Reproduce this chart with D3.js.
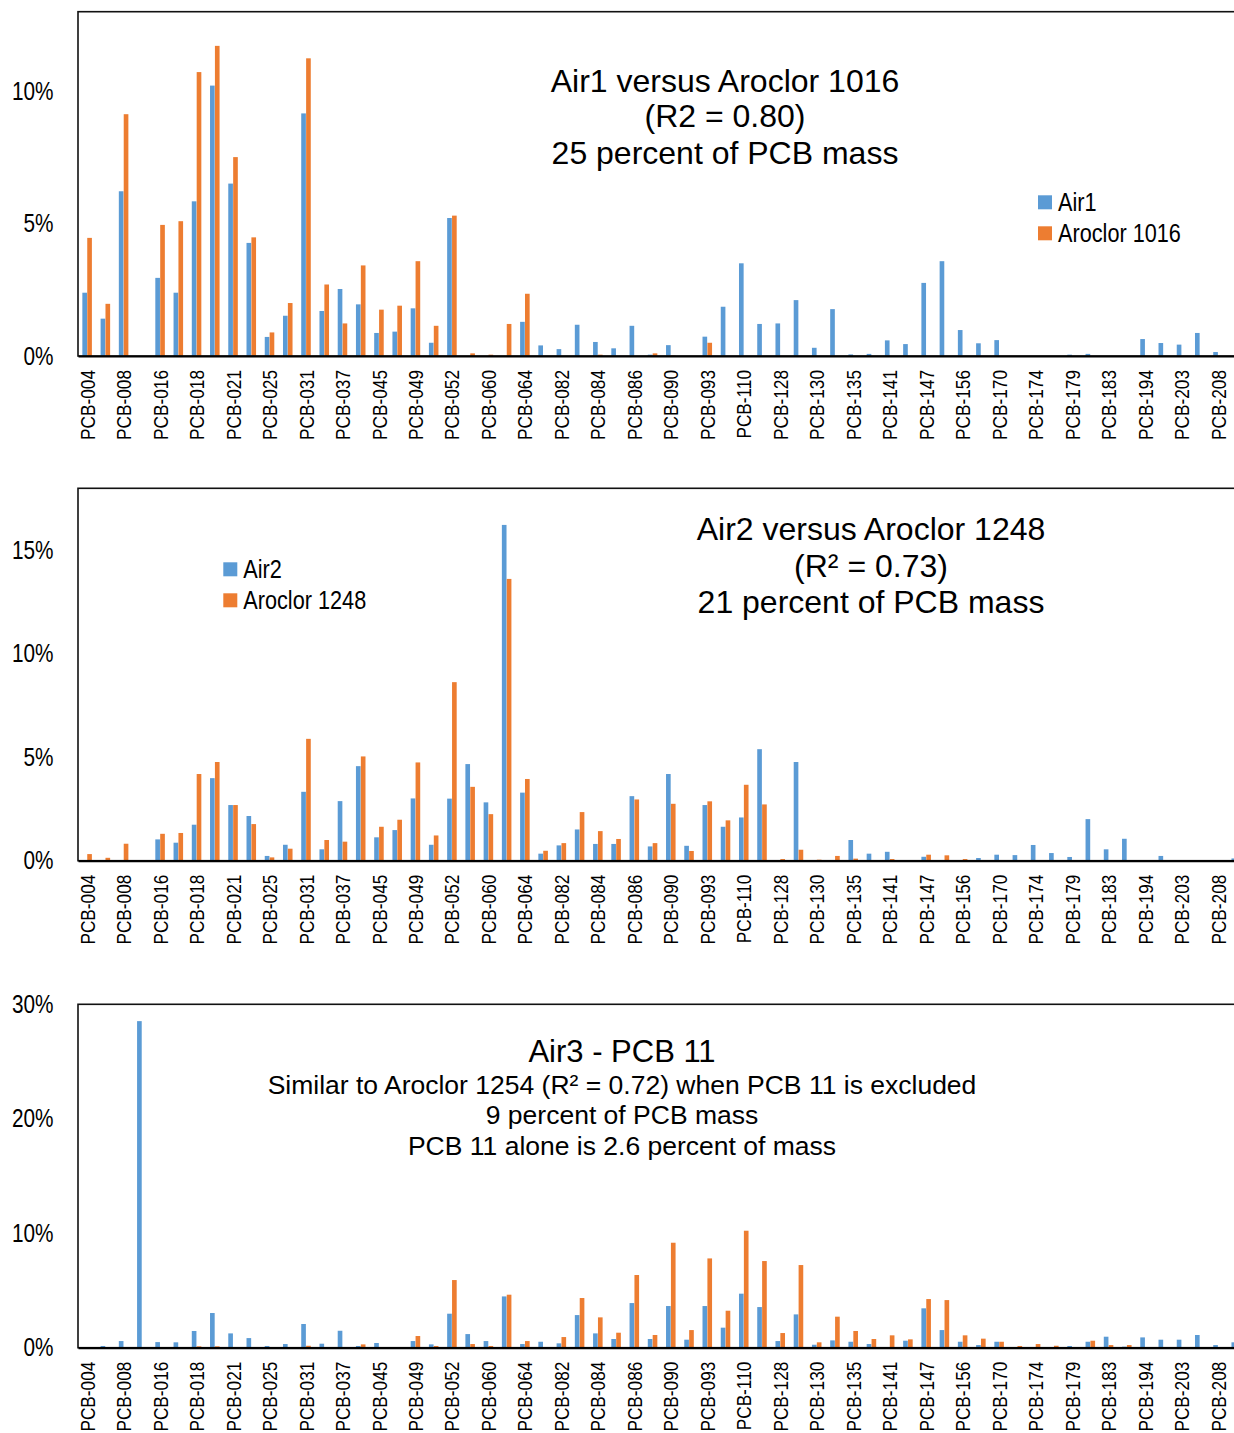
<!DOCTYPE html>
<html>
<head>
<meta charset="utf-8">
<script src="https://cdnjs.cloudflare.com/ajax/libs/d3/7.8.5/d3.min.js"></script>
<style>
body { margin: 0; background: #fff; }
svg { display: block; }
</style>
</head>
<body>
<div class="graph"></div>
<script>
//congeners on the x axis (only every other one gets a label)
let congeners = ['PCB-004','PCB-006','PCB-008','PCB-011','PCB-016','PCB-017','PCB-018','PCB-020',
    'PCB-021','PCB-022','PCB-025','PCB-028','PCB-031','PCB-033','PCB-037','PCB-044',
    'PCB-045','PCB-047','PCB-049','PCB-051','PCB-052','PCB-056','PCB-060','PCB-061',
    'PCB-064','PCB-066','PCB-082','PCB-083','PCB-084','PCB-085','PCB-086','PCB-087',
    'PCB-090','PCB-092','PCB-093','PCB-095','PCB-110','PCB-118','PCB-128','PCB-129',
    'PCB-130','PCB-132','PCB-135','PCB-138','PCB-141','PCB-146','PCB-147','PCB-153',
    'PCB-156','PCB-163','PCB-170','PCB-172','PCB-174','PCB-177','PCB-179','PCB-180',
    'PCB-183','PCB-187','PCB-194','PCB-199','PCB-203','PCB-206','PCB-208','PCB-209']

//percent of total mass
let air1 = [2.39,1.41,6.22,0,2.95,2.39,5.84,10.21,6.51,4.27,
    0.72,1.52,9.16,1.70,2.53,1.95,0.87,0.92,1.80,0.50,
    5.21,0,0,0,1.29,0.40,0.26,1.18,0.53,0.29,
    1.14,0.05,0.41,0,0.73,1.86,3.50,1.21,1.23,2.11,
    0.31,1.77,0.06,0.08,0.59,0.45,2.76,3.58,0.98,0.48,
    0.60,0,0,0,0.05,0.08,0,0,0.64,0.49,
    0.43,0.87,0.15,0]
let aroclor1016 = [4.46,1.97,9.13,0,4.95,5.09,10.72,11.71,7.51,4.48,
    0.89,2.00,11.24,2.70,1.23,3.42,1.75,1.90,3.58,1.14,
    5.30,0.10,0.05,1.21,2.35,0,0,0,0.05,0,
    0,0.10,0.02,0,0.50,0,0,0,0,0,
    0,0,0,0,0,0,0,0,0,0,
    0,0,0,0,0,0,0,0,0,0,
    0,0,0,0]

let air2 = [0,0,0,0,1.03,0.87,1.74,3.99,2.69,2.16,
    0.23,0.77,3.33,0.55,2.88,4.57,1.13,1.48,3.01,0.77,
    3.00,4.67,2.82,16.23,3.29,0.34,0.74,1.51,0.81,0.81,
    3.12,0.69,4.19,0.72,2.69,1.64,2.09,5.39,0,4.77,
    0.03,0,1.00,0.34,0.43,0,0.19,0,0,0.13,
    0.29,0.27,0.76,0.37,0.18,2.01,0.55,1.06,0,0.23,
    0,0,0,0.11]
let aroclor1248 = [0.32,0.14,0.82,0,1.30,1.34,4.19,4.77,2.69,1.77,
    0.16,0.58,5.89,1.00,0.92,5.04,1.64,1.98,4.75,1.22,
    8.63,3.57,2.25,13.62,3.95,0.48,0.85,2.35,1.43,1.05,
    2.96,0.85,2.75,0.47,2.87,1.95,3.67,2.72,0.08,0.53,
    0.05,0.23,0.10,0.03,0.08,0.03,0.29,0.26,0.08,0.03,
    0,0,0,0,0,0,0,0,0,0,
    0,0,0,0]

let air3 = [0,0.15,0.58,28.53,0.49,0.47,1.46,3.03,1.25,0.84,
    0.15,0.32,2.07,0.35,1.48,0.15,0.41,0,0.58,0.29,
    2.97,1.19,0.58,4.48,0.32,0.52,0.38,2.85,1.25,0.76,
    3.90,0.76,3.64,0.70,3.64,1.75,4.72,3.55,0.58,2.91,
    0.26,0.64,0.52,0.32,0.06,0.61,3.44,1.54,0.52,0.23,
    0.52,0,0,0,0.15,0.52,0.96,0.09,0.90,0.70,
    0.70,1.11,0.23,0.47]
let aroclor1254 = [0,0,0,0,0,0,0.12,0.12,0,0,
    0,0,0.17,0,0,0.29,0,0.06,1.02,0.15,
    5.91,0.32,0.15,4.63,0.58,0,0.93,4.34,2.65,1.31,
    6.35,1.11,9.17,1.54,7.80,3.23,10.22,7.57,1.28,7.22,
    0.47,2.71,1.46,0.76,1.08,0.73,4.25,4.16,1.08,0.79,
    0.52,0.15,0.32,0.17,0,0.61,0.23,0.23,0,0,
    0,0,0,0]

//y tick labels
let yTicks1 = [0, 5, 10]
let yTicks2 = [0, 5, 10, 15]
let yTicks3 = [0, 10, 20, 30]

//title text
let title1 = ['Air1 versus Aroclor 1016', '(R2 = 0.80)', '25 percent of PCB mass']
let title2 = ['Air2 versus Aroclor 1248', '(R\u00b2 = 0.73)', '21 percent of PCB mass']
let title3 = ['Air3 - PCB 11', 'Similar to Aroclor 1254 (R\u00b2 = 0.72) when PCB 11 is excluded',
    '9 percent of PCB mass', 'PCB 11 alone is 2.6 percent of mass']

let colors = ['#5B9BD5', '#ED7D31']
let arial = '"Liberation Sans", Arial, sans-serif'
// axis + legend text in the original is a narrow face, so squeeze Arial-like text
let narrowK = 0.82

//global sizes
let svgWidth = 1234
let svgHeight = 1433
let step = 18.24
let plotLeft = 78
let plotWidth = congeners.length * step   // runs past the right edge, like the original

let svg = d3.select('.graph')
    .append('svg')
    .attr('width', svgWidth)
    .attr('height', svgHeight)

let panels = [
    {top: 11.7, bottom: 356, max: 13, yTicks: yTicks1, series: [air1, aroclor1016],
     names: ['Air1', 'Aroclor 1016'], legendX: 1038, legendY: 195.3,
     title: title1, titleX: 725, titleY: [91.7, 127, 164.3], titleSize: [32, 32, 32]},
    {top: 488.3, bottom: 860.7, max: 18, yTicks: yTicks2, series: [air2, aroclor1248],
     names: ['Air2', 'Aroclor 1248'], legendX: 223.3, legendY: 562.3,
     title: title2, titleX: 871, titleY: [540, 576.7, 613.3], titleSize: [32, 32, 32]},
    {top: 1004.3, bottom: 1347.7, max: 30, yTicks: yTicks3, series: [air3, aroclor1254],
     names: [], legendX: 0, legendY: 0,
     title: title3, titleX: 622, titleY: [1061.7, 1094, 1124.3, 1155], titleSize: [31, 26.5, 26.5, 26.5]}
]

panels.forEach(drawPanel)

//squeeze a text along its own direction
function squeeze(sel, k) {
    sel.each(function () {
        let w = this.getComputedTextLength()
        d3.select(this)
            .attr('textLength', w * k)
            .attr('lengthAdjust', 'spacingAndGlyphs')
    })
}

function drawPanel(p) {
    let g = svg.append('g')

    let xScale = d3.scaleBand()
        .domain(congeners)
        .range([plotLeft, plotLeft + plotWidth])
        .paddingInner(0.45)
        .paddingOuter(0.225)
    let xSub = d3.scaleBand()
        .domain([0, 1])
        .range([0, xScale.bandwidth()])
        .padding(0.05)
    let yScale = d3.scaleLinear()
        .domain([0, p.max])
        .range([p.bottom, p.top])

    //bars
    p.series.forEach((values, s) => {
        g.append('g')
            .selectAll('rect')
            .data(values.map((v, i) => ({cat: congeners[i], v: v})).filter(d => d.v > 0))
            .join('rect')
            .attr('x', d => xScale(d.cat) + xSub(s))
            .attr('width', xSub.bandwidth())
            .attr('y', d => yScale(d.v))
            .attr('height', d => p.bottom - yScale(d.v))
            .attr('fill', colors[s])
    })

    //frame round the plot area
    g.append('rect')
        .attr('x', plotLeft)
        .attr('y', p.top)
        .attr('width', plotWidth)
        .attr('height', p.bottom - p.top)
        .attr('fill', 'none')
        .attr('stroke', '#111')
        .attr('stroke-width', 1.6)

    // axis
    let xAxis = d3.axisBottom(xScale)
        .tickValues(congeners.filter((d, i) => i % 2 == 0))
        .tickSize(0)
        .tickSizeOuter(0)
    let yAxis = d3.axisLeft(yScale)
        .tickValues(p.yTicks)
        .tickFormat(d => d + '%')
        .tickSize(0)
        .tickPadding(24.5)

    let gx = g.append('g')
        .attr('transform', `translate(0,${p.bottom})`)
        .call(xAxis)
    gx.select('.domain').attr('stroke', '#000').attr('stroke-width', 2.2)
    gx.selectAll('text')
        .attr('transform', 'rotate(-90)')
        .attr('x', -14)
        .attr('y', 0)
        .attr('dy', '0.36em')
        .attr('text-anchor', 'end')
        .attr('font-family', arial)
        .attr('font-size', 21)
        .attr('fill', '#000')
        .call(squeeze, narrowK)

    let gy = g.append('g')
        .attr('transform', `translate(${plotLeft},0)`)
        .call(yAxis)
    gy.select('.domain').remove()
    gy.selectAll('text')
        .attr('font-family', arial)
        .attr('font-size', 25)
        .attr('fill', '#000')
        .call(squeeze, 0.83)

    //title lines
    p.title.forEach((line, i) => {
        g.append('text')
            .attr('x', p.titleX)
            .attr('y', p.titleY[i])
            .attr('text-anchor', 'middle')
            .attr('font-family', arial)
            .attr('font-size', p.titleSize[i])
            .attr('fill', '#000')
            .text(line)
    })

    //legend
    p.names.forEach((name, i) => {
        let ly = p.legendY + i * 31
        g.append('rect')
            .attr('x', p.legendX)
            .attr('y', ly)
            .attr('width', 14)
            .attr('height', 14)
            .attr('fill', colors[i])
        g.append('text')
            .attr('x', p.legendX + 20)
            .attr('y', ly + 15.5)
            .attr('font-family', arial)
            .attr('font-size', 25.5)
            .attr('fill', '#000')
            .text(name)
            .call(squeeze, 0.85)
    })
}
</script>
</body>
</html>
